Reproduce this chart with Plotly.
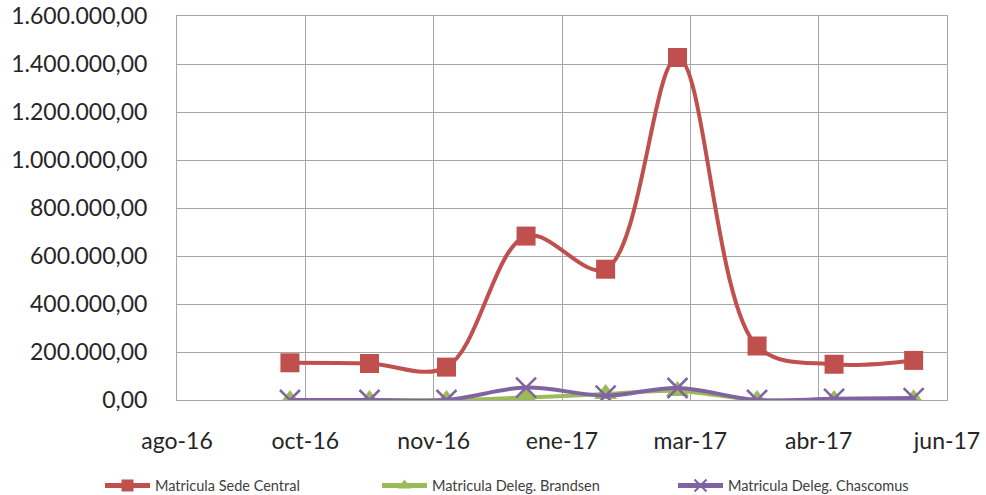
import plotly.graph_objects as go

months = ["2016-10-01", "2016-11-01", "2016-12-01", "2017-01-01", "2017-02-01",
          "2017-03-01", "2017-04-01", "2017-05-01", "2017-06-01"]
sede_central = [155000, 152000, 137000, 683000, 545000, 1427000, 225000, 149000, 165000]
brandsen = [0, 0, 0, 10000, 25000, 38000, 0, 0, 3000]
chascomus = [0, 0, 0, 52000, 18000, 50000, 0, 5000, 8000]

x_tick_vals = ["2016-08-18", "2016-10-07", "2016-11-26", "2017-01-15",
               "2017-03-06", "2017-04-25", "2017-06-14"]
x_tick_text = ["ago-16", "oct-16", "nov-16", "ene-17", "mar-17", "abr-17", "jun-17"]
y_tick_vals = [0, 200000, 400000, 600000, 800000, 1000000, 1200000, 1400000, 1600000]
y_tick_text = ["0,00", "200.000,00", "400.000,00", "600.000,00", "800.000,00",
               "1.000.000,00", "1.200.000,00", "1.400.000,00", "1.600.000,00"]

names = ["Matricula Sede Central", "Matricula Deleg. Brandsen", "Matricula Deleg. Chascomus"]
colors = ["#C0504D", "#9BBB59", "#8064A2"]

fig = go.Figure()
fig.add_trace(go.Scatter(
    x=months, y=sede_central, name=names[0], mode="lines+markers",
    line=dict(color=colors[0], width=4, shape="spline", smoothing=1.0),
    marker=dict(symbol="square", size=19, color=colors[0]),
    legend="legend"))
fig.add_trace(go.Scatter(
    x=months, y=brandsen, name=names[1], mode="lines+markers",
    line=dict(color=colors[1], width=4, shape="spline", smoothing=1.0),
    marker=dict(symbol="triangle-up", size=20, color=colors[1]),
    legend="legend2"))
fig.add_trace(go.Scatter(
    x=months, y=chascomus, name=names[2], mode="lines+markers",
    line=dict(color=colors[2], width=4, shape="spline", smoothing=1.0),
    marker=dict(symbol="x-thin", size=20, color=colors[2],
                line=dict(color=colors[2], width=2.5)),
    legend="legend3"))

grid = "#A6A6A6"
font_family = "Lato, 'Open Sans', sans-serif"
plot_left = 177
plot_w = 770
legend_common = dict(orientation="h", yanchor="middle", y=-0.223, xanchor="left",
                     font=dict(size=14.5, color="#404040", family=font_family),
                     bgcolor="rgba(0,0,0,0)", itemwidth=45, itemsizing="constant")

fig.update_layout(
    width=986, height=495,
    margin=dict(l=plot_left, r=39, t=16, b=95, autoexpand=False),
    paper_bgcolor="white", plot_bgcolor="white",
    font=dict(family=font_family, color="#333333"),
    showlegend=True,
    legend=dict(x=(100 - plot_left) / plot_w, **legend_common),
    legend2=dict(x=(377 - plot_left) / plot_w, **legend_common),
    legend3=dict(x=(673 - plot_left) / plot_w, **legend_common),
    xaxis=dict(
        type="date", range=["2016-08-18", "2017-06-14"],
        tickvals=x_tick_vals, ticktext=x_tick_text, automargin=False,
        showgrid=True, gridcolor=grid, gridwidth=1,
        showline=True, linecolor=grid, linewidth=1, mirror=True,
        ticks="", ticklabelstandoff=20,
        tickfont=dict(size=23, color="#262626", family=font_family),
        zeroline=False),
    yaxis=dict(
        range=[0, 1600000],
        tickvals=y_tick_vals, ticktext=y_tick_text, automargin=False,
        showgrid=True, gridcolor=grid, gridwidth=1,
        showline=True, linecolor=grid, linewidth=1, mirror=True,
        ticks="", ticklabelstandoff=24,
        tickfont=dict(size=23, color="#262626", family=font_family),
        zeroline=False),
)

fig.write_html("out.html", config={"displayModeBar": False},
               post_script="document.body.style.margin='0';")
